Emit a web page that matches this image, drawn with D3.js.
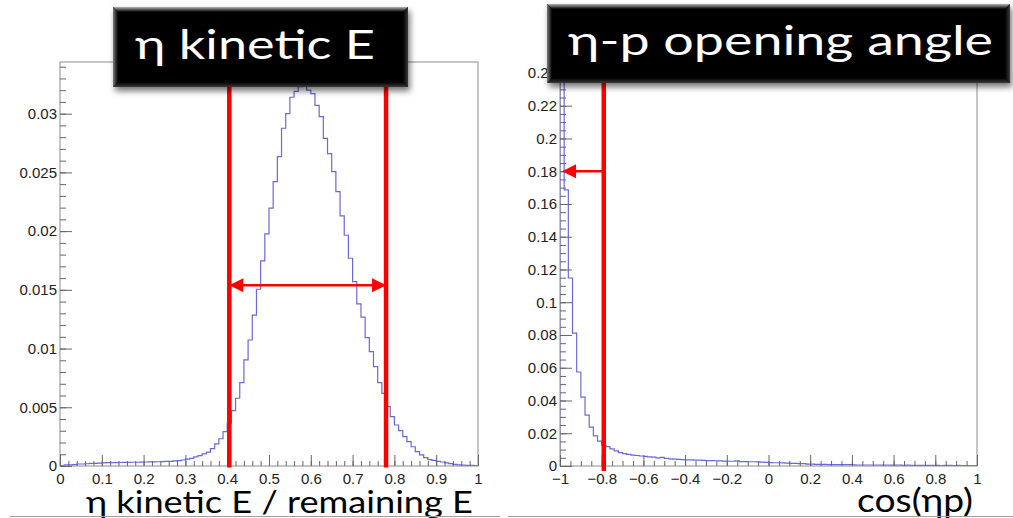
<!DOCTYPE html>
<html>
<head>
<meta charset="utf-8">
<script src="https://cdn.jsdelivr.net/npm/d3@7"></script>
<style>
  body { margin: 0; background: #fff; }
  svg { display: block; }
</style>
</head>
<body>
<svg id="chart" width="1013" height="518"></svg>
<script>
// eta kinetic E / remaining E, 100 bins over [0,1]
const kinBins = [
  0.00003, 0.0001, 0.0001, 0.00012, 0.00017, 0.00017, 0.00019, 0.00022, 0.00023, 0.00024,
  0.00027, 0.00028, 0.00028, 0.00029, 0.0003, 0.00031, 0.00031, 0.00032, 0.00032, 0.00033,
  0.00034, 0.00035, 0.00035, 0.00036, 0.00037, 0.00039, 0.0004, 0.00043, 0.00046, 0.00051,
  0.00058, 0.00065, 0.00078, 0.00088, 0.00103, 0.00118, 0.00148, 0.00188, 0.00232, 0.00292,
  0.00364, 0.00471, 0.00577, 0.0071, 0.00903, 0.01073, 0.01284, 0.01505, 0.01746, 0.01976,
  0.02195, 0.02422, 0.02635, 0.02876, 0.0300, 0.0314, 0.0319, 0.0323, 0.0328, 0.0320,
  0.0317, 0.0307, 0.02975, 0.0279, 0.0266, 0.02507, 0.02336, 0.0213, 0.01965, 0.01769,
  0.0157, 0.0138, 0.01267, 0.01093, 0.00974, 0.00846, 0.0071, 0.00619, 0.00505, 0.0042,
  0.00349, 0.00301, 0.0025, 0.00207, 0.00164, 0.00122, 0.00094, 0.00071, 0.00055, 0.00048,
  0.0004, 0.00034, 0.00026, 0.0002, 0.00014, 0.0001, 0.00007, 0.00006, 0.00005, 0.00004
];

// cos(eta p), 100 bins over [-1,1]
const cosBins = [
  0.33, 0.1686, 0.1148, 0.0812, 0.0574, 0.0421, 0.0311, 0.0238, 0.0184, 0.0152,
  0.0128, 0.0118, 0.0104, 0.0092, 0.0082, 0.0075, 0.0071, 0.0066, 0.0064, 0.0061,
  0.0059, 0.0056, 0.0054, 0.0050, 0.0053, 0.0046, 0.0043, 0.0042, 0.0041, 0.0039,
  0.0038, 0.0037, 0.0036, 0.0036, 0.0034, 0.0033, 0.0033, 0.0032, 0.0031, 0.0030,
  0.0029, 0.0029, 0.0031, 0.0027, 0.0027, 0.0026, 0.0026, 0.0025, 0.0024, 0.0022,
  0.0021, 0.0020, 0.0020, 0.0019, 0.0017, 0.0016, 0.0016, 0.0015, 0.0015, 0.0012,
  0.0011, 0.0010, 0.0010, 0.0010, 0.0009, 0.0009, 0.0009, 0.0008, 0.0008, 0.0008,
  0.0007, 0.0006, 0.0006, 0.0006, 0.0006, 0.0006, 0.0006, 0.0005, 0.0006, 0.0005,
  0.0005, 0.0005, 0.0004, 0.0005, 0.0004, 0.0004, 0.0004, 0.0004, 0.0004, 0.0004,
  0.0004, 0.0003, 0.0004, 0.0004, 0.0003, 0.0004, 0.0003, 0.0003, 0.0003, 0.0003
];

const kinXTicks = [0, 0.1, 0.2, 0.3, 0.4, 0.5, 0.6, 0.7, 0.8, 0.9, 1];
const kinXLabels = ["0", "0.1", "0.2", "0.3", "0.4", "0.5", "0.6", "0.7", "0.8", "0.9", "1"];
const kinYTicks = [0, 0.005, 0.01, 0.015, 0.02, 0.025, 0.03];
const kinYLabels = ["0", "0.005", "0.01", "0.015", "0.02", "0.025", "0.03"];

const cosXTicks = [-1, -0.8, -0.6, -0.4, -0.2, 0, 0.2, 0.4, 0.6, 0.8, 1];
const cosXLabels = ["\u22121", "\u22120.8", "\u22120.6", "\u22120.4", "\u22120.2", "0", "0.2", "0.4", "0.6", "0.8", "1"];
const cosYTicks = [0, 0.02, 0.04, 0.06, 0.08, 0.1, 0.12, 0.14, 0.16, 0.18, 0.2, 0.22, 0.24];
const cosYLabels = ["0", "0.02", "0.04", "0.06", "0.08", "0.1", "0.12", "0.14", "0.16", "0.18", "0.2", "0.22", "0.24"];

// cut positions (red lines) and arrow heights
const kinCuts = [0.405, 0.78];
const kinArrowY = 0.0154;
const cosCut = -0.79;
const cosArrowY = 0.18;
const cosArrowTip = -0.99;

const svg = d3.select("#chart");
const defs = svg.append("defs");

// bevel gradients for the title boxes
function grad(id, x2, y2, c1, c2) {
  const g = defs.append("linearGradient").attr("id", id)
      .attr("x1", 0).attr("y1", 0).attr("x2", x2).attr("y2", y2);
  g.append("stop").attr("offset", "0%").attr("stop-color", c1);
  g.append("stop").attr("offset", "100%").attr("stop-color", c2);
}
grad("bvTop", 0, 1, "#b4b4b4", "#000");
grad("bvBottom", 0, 1, "#000", "#3a3a3a");
grad("bvLeft", 1, 0, "#7a7a7a", "#000");
grad("bvRight", 1, 0, "#000", "#3a3a3a");

const shadow = defs.append("filter").attr("id", "shadow")
    .attr("x", "-10%").attr("y", "-10%").attr("width", "130%").attr("height", "140%");
shadow.append("feDropShadow").attr("dx", 2).attr("dy", 4)
    .attr("stdDeviation", 3).attr("flood-color", "#000").attr("flood-opacity", 0.55);

function drawPanel(opt) {
  const x = d3.scaleLinear().domain(opt.xDomain).range(opt.xRange);
  const y = d3.scaleLinear().domain(opt.yDomain).range(opt.yRange);
  const g = svg.append("g");

  const clipId = "clip" + opt.id;
  defs.append("clipPath").attr("id", clipId)
    .append("rect")
      .attr("x", opt.xRange[0]).attr("y", opt.yRange[1])
      .attr("width", opt.xRange[1] - opt.xRange[0])
      .attr("height", opt.yRange[0] - opt.yRange[1]);

  // histogram outline
  const lo = opt.xDomain[0], hi = opt.xDomain[1];
  const w = (hi - lo) / opt.bins.length;
  const pts = [[lo, 0]];
  opt.bins.forEach((v, i) => pts.push([lo + i * w, v]));
  pts.push([hi, opt.bins[opt.bins.length - 1]]);
  pts.push([hi, 0]);

  const line = d3.line()
      .x(d => x(d[0]))
      .y(d => y(d[1]))
      .curve(d3.curveStepAfter);

  g.append("path")
      .attr("clip-path", `url(#${clipId})`)
      .attr("d", line(pts))
      .attr("fill", "none")
      .attr("stroke", "#5a5ad2")
      .attr("stroke-opacity", 0.9)
      .attr("stroke-width", 1.2);

  // frame
  g.append("rect")
      .attr("x", opt.xRange[0]).attr("y", opt.yRange[1])
      .attr("width", opt.xRange[1] - opt.xRange[0])
      .attr("height", opt.yRange[0] - opt.yRange[1])
      .attr("fill", "none")
      .attr("stroke", "#8c8c8c")
      .attr("stroke-width", 1);

  // minor ticks (no labels)
  g.append("g")
      .attr("transform", `translate(${opt.xRange[0]},0)`)
      .call(d3.axisLeft(y).tickValues(d3.range(0, opt.yDomain[1], opt.yMinor)).tickSize(-6).tickFormat(""))
      .call(s => s.select(".domain").remove())
      .call(s => s.selectAll("text").remove());
  g.append("g")
      .attr("transform", `translate(0,${opt.yRange[0]})`)
      .call(d3.axisBottom(x).tickValues(d3.range(lo, hi + 1e-9, opt.xMinor)).tickSize(-5).tickFormat(""))
      .call(s => s.select(".domain").remove())
      .call(s => s.selectAll("text").remove());

  // major ticks with labels
  g.append("g")
      .attr("class", "lab")
      .attr("transform", `translate(${opt.xRange[0]},0)`)
      .call(d3.axisLeft(y).tickValues(opt.yTicks).tickSize(-12).tickPadding(3)
        .tickFormat((d, i) => opt.yLabels[i]))
      .call(s => s.select(".domain").remove());
  g.append("g")
      .attr("class", "lab")
      .attr("transform", `translate(0,${opt.yRange[0]})`)
      .call(d3.axisBottom(x).tickValues(opt.xTicks).tickSize(-11).tickPadding(7)
        .tickFormat((d, i) => opt.xLabels[i]))
      .call(s => s.select(".domain").remove());

  g.selectAll(".tick line").attr("stroke", "#666");
  g.selectAll(".lab text")
      .attr("font-family", "'Liberation Sans', Arial, sans-serif")
      .attr("font-size", 15)
      .attr("fill", "#222");

  return { x, y, g };
}

const left = drawPanel({
  id: "L", bins: kinBins,
  xDomain: [0, 1], xRange: [60, 478],
  yDomain: [0, 0.0344], yRange: [466, 62],
  xTicks: kinXTicks, xLabels: kinXLabels, xMinor: 0.02,
  yTicks: kinYTicks, yLabels: kinYLabels, yMinor: 0.001
});

const right = drawPanel({
  id: "R", bins: cosBins,
  xDomain: [-1, 1], xRange: [560, 977],
  yDomain: [0, 0.2467], yRange: [466, 62],
  xTicks: cosXTicks, xLabels: cosXLabels, xMinor: 0.05,
  yTicks: cosYTicks, yLabels: cosYLabels, yMinor: 0.005
});

// red cut lines and arrows
const red = "#ff0000";
function arrowHead(g, tipX, y0, dir) {
  const L = 14, H = 7;
  g.append("path")
      .attr("d", `M${tipX},${y0} L${tipX + dir * L},${y0 - H} L${tipX + dir * L},${y0 + H} Z`)
      .attr("fill", red);
}

kinCuts.forEach(c => {
  left.g.append("line")
      .attr("x1", left.x(c)).attr("x2", left.x(c))
      .attr("y1", left.y(0.0344)).attr("y2", left.y(0) + 1.5)
      .attr("stroke", red).attr("stroke-width", 4.5);
});
const ay = left.y(kinArrowY);
left.g.append("line")
    .attr("x1", left.x(kinCuts[0]) + 10).attr("x2", left.x(kinCuts[1]) - 10)
    .attr("y1", ay).attr("y2", ay)
    .attr("stroke", red).attr("stroke-width", 2.5);
arrowHead(left.g, left.x(kinCuts[0]), ay, 1);
arrowHead(left.g, left.x(kinCuts[1]), ay, -1);

right.g.append("line")
    .attr("x1", right.x(cosCut)).attr("x2", right.x(cosCut))
    .attr("y1", right.y(0.2467)).attr("y2", right.y(0) + 5)
    .attr("stroke", red).attr("stroke-width", 4.5);
const ry = right.y(cosArrowY);
right.g.append("line")
    .attr("x1", right.x(cosCut)).attr("x2", right.x(cosArrowTip) + 10)
    .attr("y1", ry).attr("y2", ry)
    .attr("stroke", red).attr("stroke-width", 2.5);
arrowHead(right.g, right.x(cosArrowTip), ry, 1);

// title boxes
function titleBox(bx, by, bw, bh, label, tx, ty, tlen, fs) {
  const g = svg.append("g");
  const b = 5;
  g.append("rect").attr("x", bx).attr("y", by).attr("width", bw).attr("height", bh)
      .attr("fill", "#000").attr("filter", "url(#shadow)");
  g.append("path").attr("fill", "url(#bvTop)")
      .attr("d", `M${bx},${by} L${bx + bw},${by} L${bx + bw - b},${by + b} L${bx + b},${by + b} Z`);
  g.append("path").attr("fill", "url(#bvBottom)")
      .attr("d", `M${bx},${by + bh} L${bx + bw},${by + bh} L${bx + bw - b},${by + bh - b} L${bx + b},${by + bh - b} Z`);
  g.append("path").attr("fill", "url(#bvLeft)")
      .attr("d", `M${bx},${by} L${bx + b},${by + b} L${bx + b},${by + bh - b} L${bx},${by + bh} Z`);
  g.append("path").attr("fill", "url(#bvRight)")
      .attr("d", `M${bx + bw},${by} L${bx + bw - b},${by + b} L${bx + bw - b},${by + bh - b} L${bx + bw},${by + bh} Z`);
  g.append("text")
      .attr("x", tx).attr("y", ty)
      .attr("textLength", tlen).attr("lengthAdjust", "spacingAndGlyphs")
      .attr("font-family", "Lato, 'Open Sans', sans-serif")
      .attr("font-size", fs)
      .attr("fill", "#fff")
      .text(label);
}
titleBox(113, 7, 295, 80, "η kinetic E", 135, 59, 240, 41);
titleBox(547, 4, 463, 79, "η-p opening angle", 568, 55, 425, 41);

// axis titles (bottom one is cut by the picture edge, as in the slide)
svg.append("text")
    .attr("x", 86).attr("y", 513)
    .attr("textLength", 387).attr("lengthAdjust", "spacingAndGlyphs")
    .attr("font-family", "Lato, 'Open Sans', sans-serif")
    .attr("font-size", 31).attr("fill", "#000")
    .text("η kinetic E / remaining E");
svg.append("text")
    .attr("x", 857).attr("y", 512)
    .attr("textLength", 116).attr("lengthAdjust", "spacingAndGlyphs")
    .attr("font-family", "Lato, 'Open Sans', sans-serif")
    .attr("font-size", 33).attr("fill", "#000")
    .text("cos(ηp)");

// thin slide rules at the bottom
svg.append("line").attr("x1", 10).attr("x2", 500).attr("y1", 516.5).attr("y2", 516.5)
    .attr("stroke", "#a0a0a0").attr("stroke-width", 1);
svg.append("line").attr("x1", 508).attr("x2", 1013).attr("y1", 516.5).attr("y2", 516.5)
    .attr("stroke", "#a0a0a0").attr("stroke-width", 1);
</script>
</body>
</html>
